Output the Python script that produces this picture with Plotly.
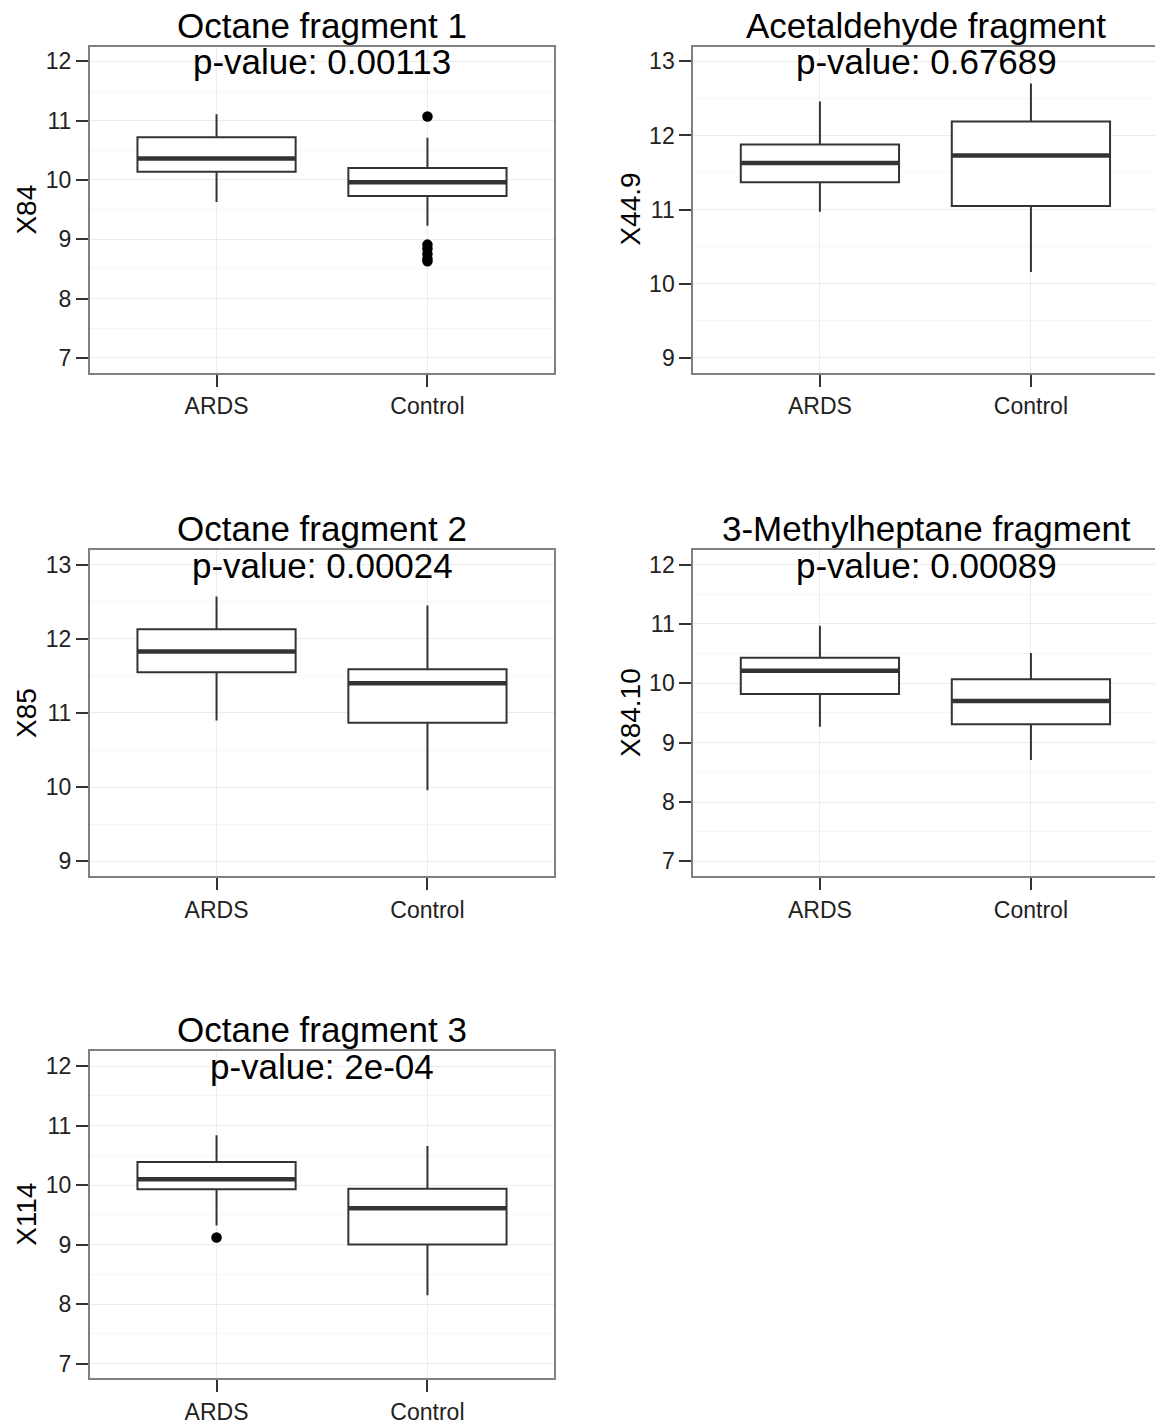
import plotly.graph_objects as go

W, H = 1155, 1425

categories = ["ARDS", "Control"]
panel_titles = ["Octane fragment 1", "Acetaldehyde fragment", "Octane fragment 2",
                "3-Methylheptane fragment", "Octane fragment 3"]
pvalue_labels = ["p-value: 0.00113", "p-value: 0.67689", "p-value: 0.00024",
                 "p-value: 0.00089", "p-value: 2e-04"]
y_labels = ["X84", "X44.9", "X85", "X84.10", "X114"]
y_limits = [(7, 12), (9, 13), (9, 13), (7, 12), (7, 12)]

# per panel: [ARDS, Control]
lower_whisker = [[9.63, 9.23], [10.97, 10.16], [10.90, 9.96], [9.27, 8.71], [9.32, 8.15]]
q1_values = [[10.14, 9.73], [11.37, 11.05], [11.55, 10.87], [9.82, 9.31], [9.93, 9.00]]
median_values = [[10.36, 9.96], [11.63, 11.73], [11.83, 11.40], [10.21, 9.70], [10.10, 9.61]]
q3_values = [[10.72, 10.20], [11.88, 12.19], [12.13, 11.59], [10.43, 10.07], [10.39, 9.94]]
upper_whisker = [[11.11, 10.71], [12.46, 12.70], [12.57, 12.45], [10.97, 10.51], [10.84, 10.66]]
outliers = [
    [[], [11.07, 8.91, 8.84, 8.75, 8.67, 8.63]],
    [[], []],
    [[], []],
    [[], []],
    [[9.12], []],
]

# layout in pixels
col_left = [(90, 554), (693.3, 1155)]
col_xrange = [(0.4, 2.6), (0.4, 2.588)]
col_title_center = [322, 926]
col_ytitle_x = [27, 631]
row_tb = [(46.7, 374), (551.7, 879.3), (1055, 1383.3)]

FONT = "Liberation Sans, Arial, sans-serif"
BOX_W = 0.75
TICK_COLOR = "#222222"

fig = go.Figure()
annotations = []
layout_axes = {}

for k in range(5):
    row, col = k // 2, k % 2
    s = "" if k == 0 else str(k + 1)
    xa, ya = "x" + s, "y" + s
    x0, x1 = col_left[col]
    top, bot = row_tb[row]
    xdom = [x0 / W, x1 / W]
    ydom = [1 - bot / H, 1 - top / H]
    lo, hi = y_limits[k]
    ext = 0.05 * (hi - lo)

    for g in range(2):
        pos = g + 1
        fig.add_trace(go.Box(
            x=[pos], q1=[q1_values[k][g]], median=[median_values[k][g]],
            q3=[q3_values[k][g]], lowerfence=[lower_whisker[k][g]],
            upperfence=[upper_whisker[k][g]], width=BOX_W,
            fillcolor="white", line=dict(color="#333333", width=2),
            whiskerwidth=0, boxpoints=False, showlegend=False,
            hoverinfo="skip", xaxis=xa, yaxis=ya))
        fig.add_trace(go.Scatter(
            x=[pos - BOX_W / 2, pos + BOX_W / 2],
            y=[median_values[k][g], median_values[k][g]],
            mode="lines", line=dict(color="#333333", width=4.5),
            showlegend=False, hoverinfo="skip", xaxis=xa, yaxis=ya))
        if outliers[k][g]:
            fig.add_trace(go.Scatter(
                x=[pos] * len(outliers[k][g]), y=outliers[k][g], mode="markers",
                marker=dict(color="black", size=10.5),
                showlegend=False, hoverinfo="skip", xaxis=xa, yaxis=ya))

    layout_axes["xaxis" + s] = dict(
        domain=xdom, range=list(col_xrange[col]), anchor=ya,
        tickmode="array", tickvals=[1, 2], ticktext=categories,
        showgrid=True, gridcolor="#ebebeb", gridwidth=1, zeroline=False,
        showline=True, linecolor="#808080", linewidth=2, mirror=True,
        ticks="outside", ticklen=12, tickwidth=2, tickcolor="#333333",
        tickfont=dict(family=FONT, size=23, color=TICK_COLOR), fixedrange=True)
    layout_axes["yaxis" + s] = dict(
        domain=ydom, range=[lo - ext, hi + ext], anchor=xa,
        tick0=0, dtick=1, showgrid=True, gridcolor="#ebebeb", gridwidth=1,
        minor=dict(dtick=0.5, showgrid=True, gridcolor="#f6f6f6", gridwidth=1),
        zeroline=False, showline=True, linecolor="#808080", linewidth=2,
        mirror=(col == 0),
        ticks="outside", ticklen=12, tickwidth=2, tickcolor="#333333",
        tickfont=dict(family=FONT, size=23, color=TICK_COLOR), fixedrange=True)

    cx = col_title_center[col] / W
    annotations.append(dict(
        text=panel_titles[k], x=cx, y=1 - (top - 21.5) / H, xref="paper", yref="paper",
        xanchor="center", yanchor="middle", showarrow=False,
        font=dict(family=FONT, size=35, color="black")))
    annotations.append(dict(
        text=pvalue_labels[k], x=cx, y=1 - (top + 15.5) / H, xref="paper", yref="paper",
        xanchor="center", yanchor="middle", showarrow=False,
        font=dict(family=FONT, size=35, color="black")))
    annotations.append(dict(
        text=y_labels[k], x=col_ytitle_x[col] / W, y=1 - (top + bot) / 2 / H,
        xref="paper", yref="paper", xanchor="center", yanchor="middle",
        textangle=-90, showarrow=False,
        font=dict(family=FONT, size=28, color="black")))

fig.update_layout(
    width=W, height=H, margin=dict(l=0, r=0, t=0, b=0),
    paper_bgcolor="white", plot_bgcolor="white", boxmode="overlay",
    showlegend=False, annotations=annotations, **layout_axes)

fig.write_html("out.html", config={"displayModeBar": False})
